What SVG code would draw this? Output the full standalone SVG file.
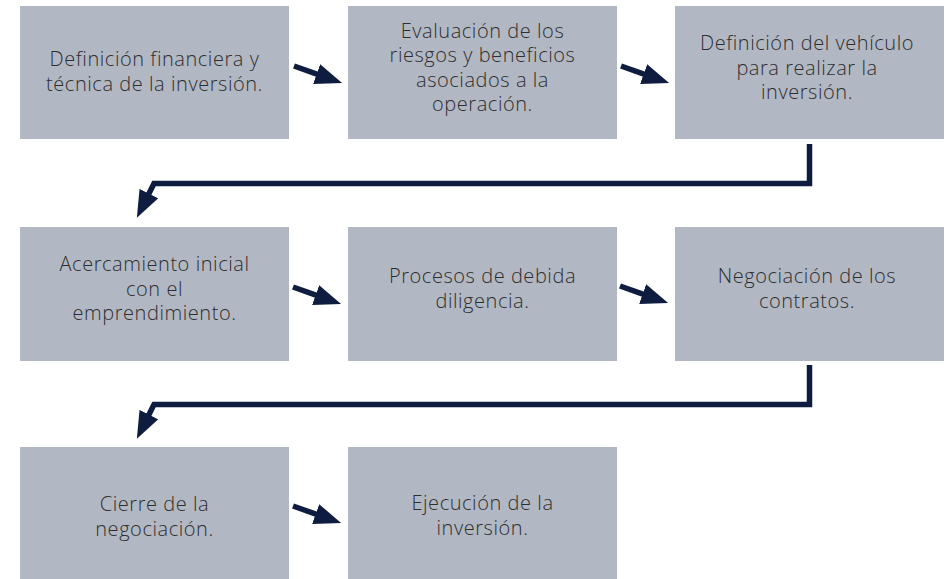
<svg xmlns="http://www.w3.org/2000/svg" width="947" height="579" viewBox="0 0 947 579">
<style>
.box{fill:#b2b8c3}
.t{font-family:"Open Sans","Liberation Sans",sans-serif;font-size:20px;font-weight:300;letter-spacing:0.55px;fill:#2e2e2e;text-anchor:middle}
.c{fill:none;stroke:#0d1c3f;stroke-width:5.5}
</style>
<defs>
<marker id="ah" viewBox="0 -10.5 27 21" refX="1" refY="0" markerWidth="27" markerHeight="21" markerUnits="userSpaceOnUse" orient="auto">
<path d="M0,-10.5 L27,0 L0,10.5 z" fill="#0d1c3f"/>
</marker>
</defs>
<rect width="947" height="579" fill="#ffffff"/>
<g id="n1"><rect class="box" x="20" y="6" width="269" height="133"/>
<text class="t" x="154.5" y="66">Definición financiera y</text><text class="t" x="154.5" y="90.5">técnica de la inversión.</text></g>
<g id="n2"><rect class="box" x="348" y="6" width="269" height="133"/>
<text class="t" x="482.5" y="37.5">Evaluación de los</text><text class="t" x="482.5" y="62">riesgos y beneficios</text><text class="t" x="482.5" y="86.5">asociados a la</text><text class="t" x="482.5" y="111">operación.</text></g>
<g id="n3"><rect class="box" x="675" y="6" width="269" height="133"/>
<text class="t" x="807" y="50">Definición del vehículo</text><text class="t" x="807" y="74.5">para realizar la</text><text class="t" x="807" y="99">inversión.</text></g>
<g id="n4"><rect class="box" x="20" y="227" width="269" height="134"/>
<text class="t" x="154.5" y="271">Acercamiento inicial</text><text class="t" x="154.5" y="295.5">con el</text><text class="t" x="154.5" y="320">emprendimiento.</text></g>
<g id="n5"><rect class="box" x="348" y="227" width="269" height="134"/>
<text class="t" x="482.5" y="283">Procesos de debida</text><text class="t" x="482.5" y="307.5">diligencia.</text></g>
<g id="n6"><rect class="box" x="675" y="227" width="269" height="134"/>
<text class="t" x="807" y="283">Negociación de los</text><text class="t" x="807" y="307.5">contratos.</text></g>
<g id="n7"><rect class="box" x="20" y="447" width="269" height="134"/>
<text class="t" x="154.5" y="511">Cierre de la</text><text class="t" x="154.5" y="535.5">negociación.</text></g>
<g id="n8"><rect class="box" x="348" y="447" width="269" height="134"/>
<text class="t" x="482.5" y="510">Ejecución de la</text><text class="t" x="482.5" y="534.5">inversión.</text></g>
<g id="connectors">
<path class="c" d="M294,66 L317.6,74.4" marker-end="url(#ah)"/>
<path class="c" d="M621,66 L644.6,74.4" marker-end="url(#ah)"/>
<path class="c" d="M293,287 L316.6,295.4" marker-end="url(#ah)"/>
<path class="c" d="M620,286 L643.6,294.4" marker-end="url(#ah)"/>
<path class="c" d="M293,506 L316.6,514.4" marker-end="url(#ah)"/>
<path class="c" d="M809.5,144 V183.5 H154 L148.5,194.5" marker-end="url(#ah)"/>
<path class="c" d="M809.5,365 V404.5 H154 L148.5,415.5" marker-end="url(#ah)"/>
</g>
</svg>
